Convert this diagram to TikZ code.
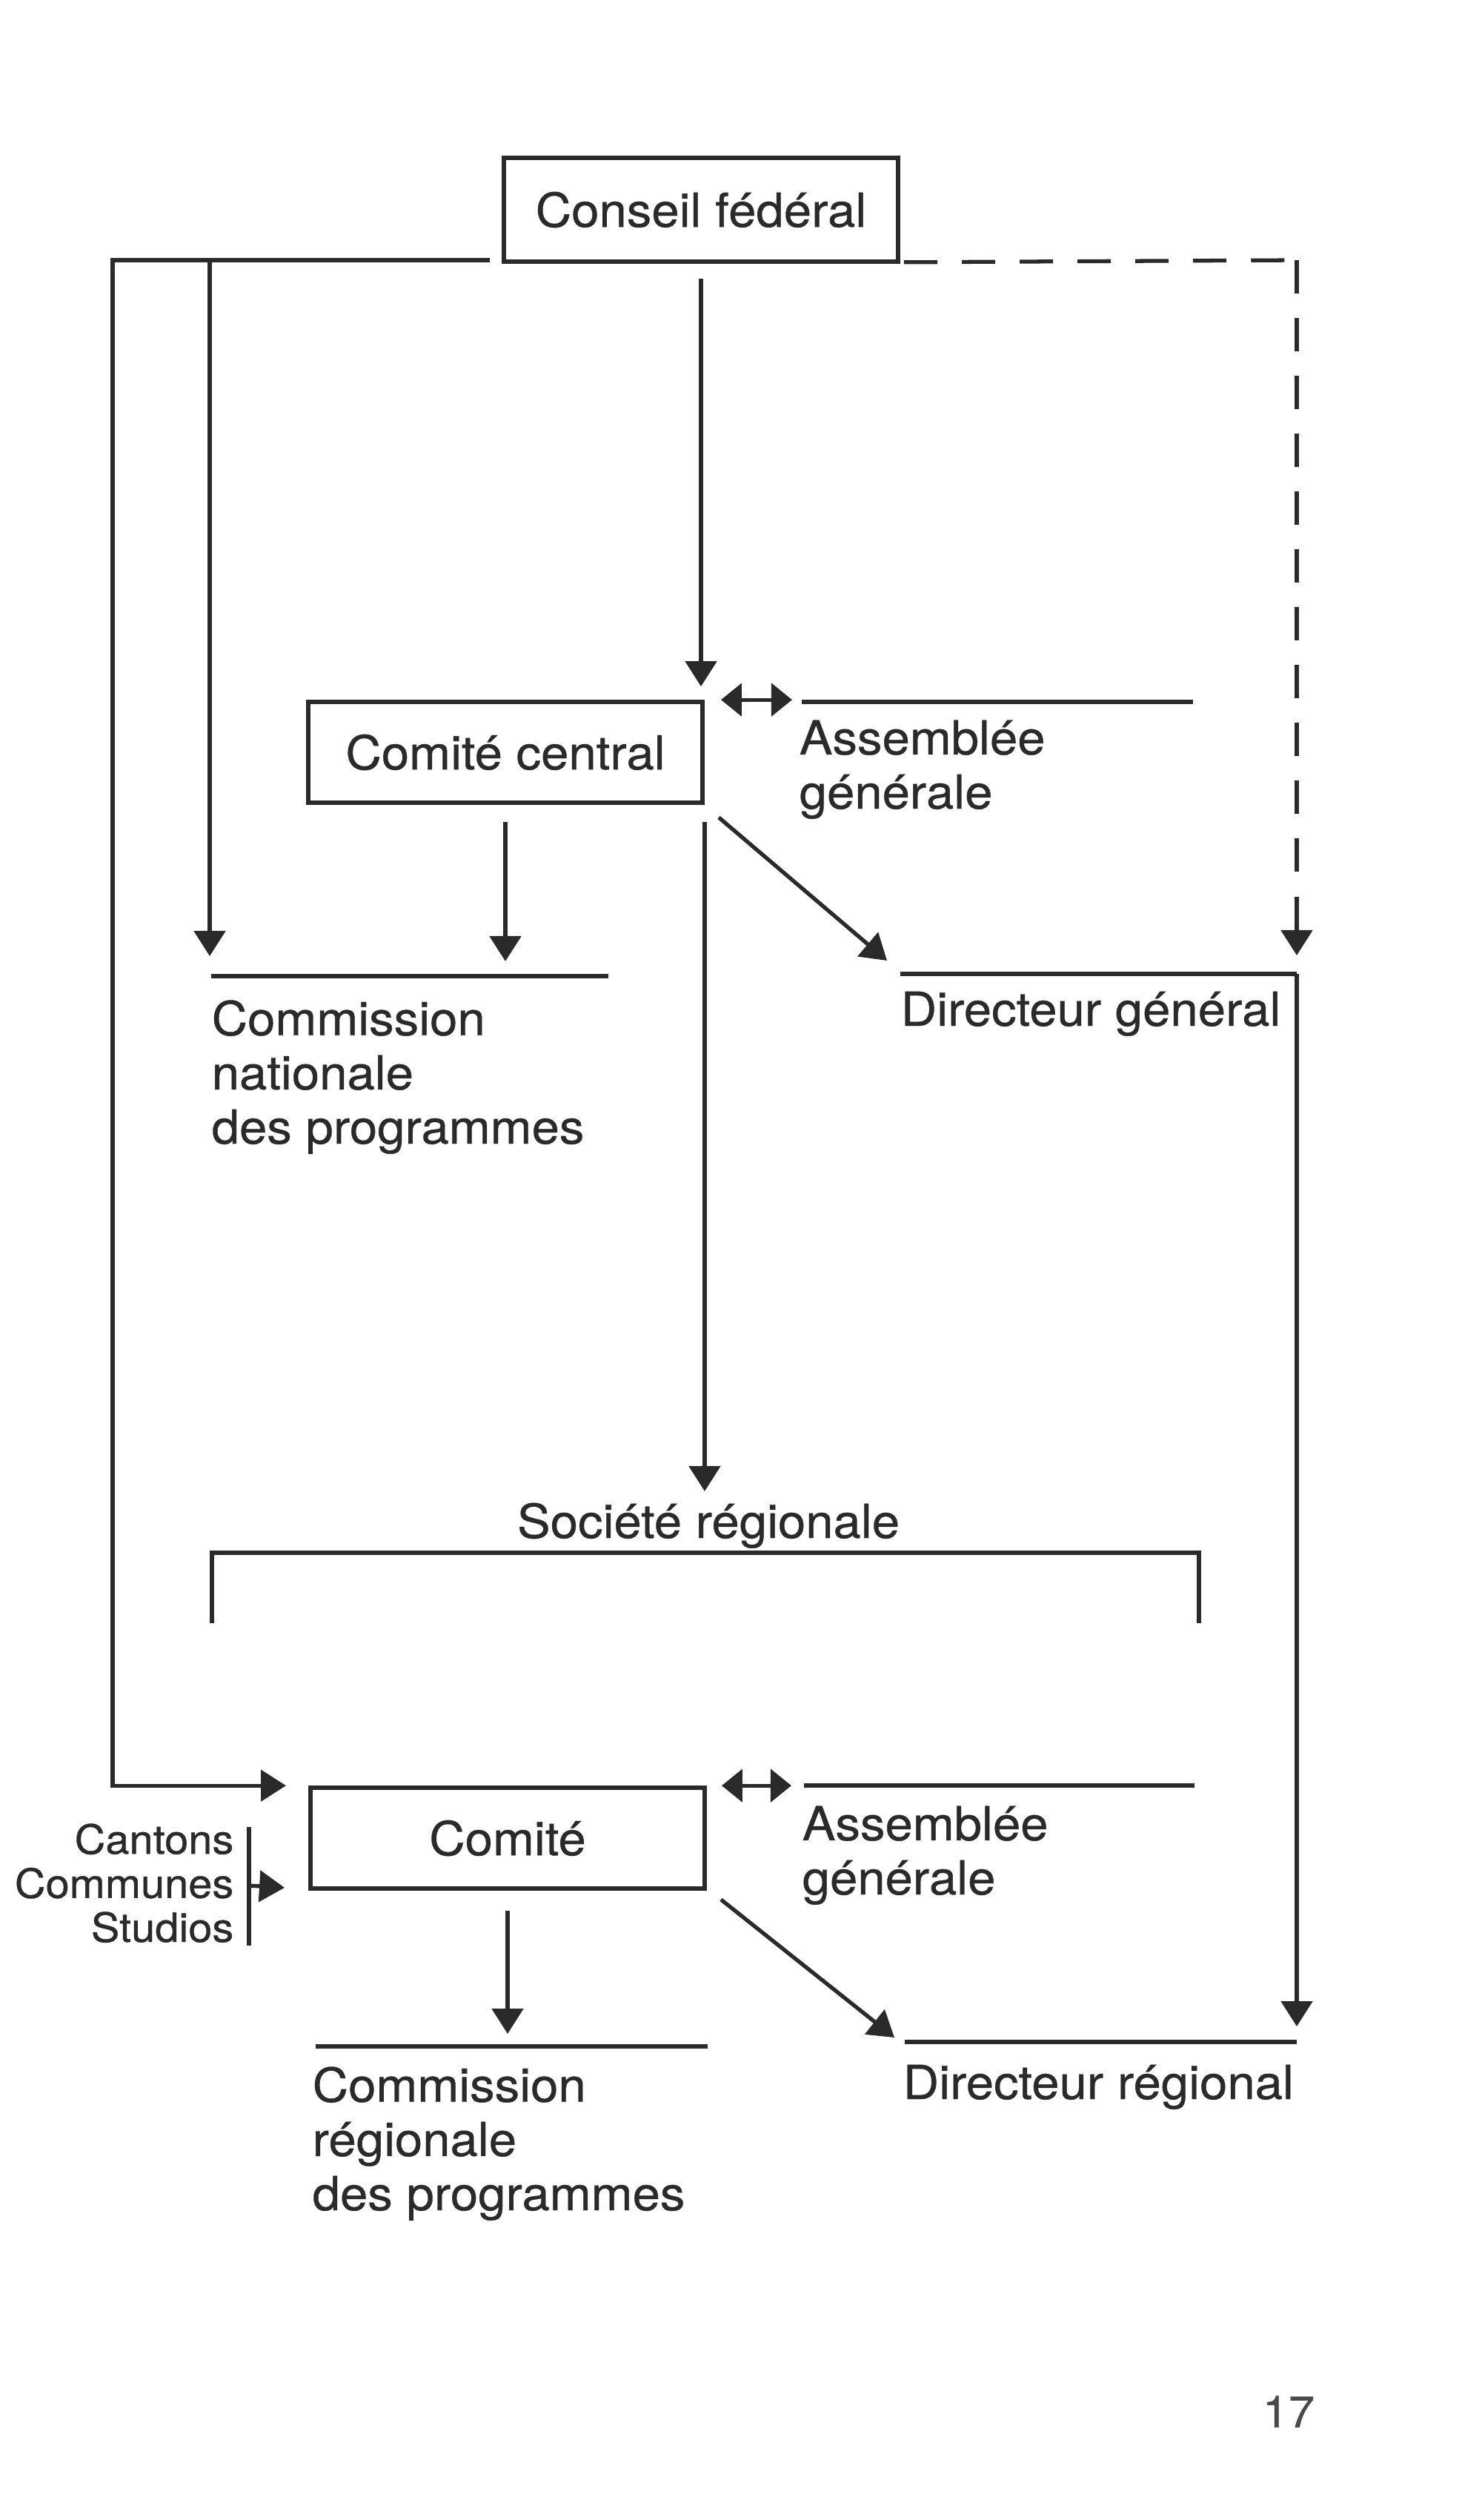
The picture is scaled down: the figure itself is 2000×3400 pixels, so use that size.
\documentclass[tikz,border=0pt]{standalone}
\usepackage{fontspec}
\setmainfont{TeX Gyre Heros}[FakeStretch=1.06,FakeBold=0.6]
\usetikzlibrary{arrows.meta,calc}
\definecolor{ink}{HTML}{2A2A2A}
\newcommand\mainfs{\fontsize{18}{20.8}\selectfont}
\newcommand\smallfs{\fontsize{15.5}{16.9}\selectfont}
\newcommand\pagefs{\fontsize{17}{20}\selectfont}
\begin{document}
\begin{tikzpicture}[x=0.01cm,y=-0.01cm,
  every node/.style={text=ink},
  box/.style={draw=ink,line width=1.6pt,minimum width=5.32cm,minimum height=1.36cm,inner sep=0pt,font=\mainfs},
  conn/.style={draw=ink,line width=1.5pt},
  arr/.style={conn,-{Triangle[length=0.34cm,width=0.42cm]}},
  dbl/.style={conn,{Triangle[length=0.28cm,width=0.44cm]}-{Triangle[length=0.28cm,width=0.44cm]}},
  lbl/.style={inner sep=0pt,font=\mainfs,align=left},
  dsh/.style={conn,dash pattern=on 0.45cm off 0.33cm}
]
\useasboundingbox (0,0) rectangle (2000,3400);
\fill[white] (0,0) rectangle (2000,3400);

% boxes
\node[box,minimum height=1.40cm] (cf) at (946,283) {Conseil fédéral};
\node[box] (cc) at (682,1015) {Comité central};
\node[box] (co) at (685,2480) {Comité};

% labels (multi-line nodes: base = last line)
\node[lbl,anchor=base west] (ag1) at (1078,1091) {Assemblée\\générale};
\node[lbl,anchor=base west] (cnp) at (285,1543) {Commission\\nationale\\des programmes};
\node[lbl,anchor=base west] (dg) at (1215,1384) {Directeur général};
\node[lbl,anchor=base] (sr) at (956,2075) {Société régionale};
\node[lbl,anchor=base west] (ag2) at (1082,2556) {Assemblée\\générale};
\node[lbl,anchor=base west] (dr) at (1218,2832) {Directeur régional};
\node[lbl,anchor=base west] (crp) at (421,2982) {Commission\\régionale\\des programmes};
\node[inner sep=0pt,font=\smallfs,align=right,anchor=base east] (cant) at (316,2620) {Cantons\\Communes\\Studios};
\node[inner sep=0pt,font=\pagefs,anchor=base west,text=ink!85] (pg) at (1703,3275) {17};

% coordinates
\coordinate (tl) at (152,351);
\coordinate (tlend) at (661,351);
\coordinate (v2) at (283,351);
\coordinate (dashR) at (1750,351);
\coordinate (ag1L) at (1082,947);
\coordinate (ag1R) at (1610,947);
\coordinate (cnpL) at (285,1317);
\coordinate (cnpR) at (821,1317);
\coordinate (dgL) at (1215,1314);
\coordinate (dgR) at (1750,1314);
\coordinate (srtip) at (948,2012);
\coordinate (srL) at (286,2095);
\coordinate (srR) at (1618,2095);
\coordinate (ag2L) at (1085,2409);
\coordinate (ag2R) at (1612,2409);
\coordinate (drL) at (1221,2755);
\coordinate (drR) at (1750,2755);
\coordinate (crpL) at (426,2761);
\coordinate (crpR) at (955,2761);
\coordinate (cbT) at (336,2465);
\coordinate (cbB) at (336,2625);
\coordinate (cbM) at (336,2544);

% connectors
\draw[arr] (tlend) -- (tl) |- ($(co.north west)+(-30,0)$);
\draw[arr] (v2) -- ($(cnpL)+(-2,-27)$);
\draw[dsh] ($(cf.south east)+(5,-2)$) -- (dashR);
\draw[dsh,-{Triangle[length=0.34cm,width=0.42cm]}] (dashR) -- ($(dgR)+(0,-25)$);
\draw[arr] ($(cf.south)+(0,20)$) -- ($(cf.south |- cc.north)+(0,-18)$);
\draw[dbl] ($(cc.north east)+(22,0)$) -- ++(96,0);
\draw[conn] (ag1L) -- (ag1R);
\draw[arr] ($(cc.south)+(0,23)$) -- ($(cc.south |- cnpL)+(0,-20)$);
\draw[conn] (cnpL) -- (cnpR);
\draw[arr] ($(cc.south east)+(19,17)$) -- ($(dgL)+(-18,-18)$);
\draw[conn] (dgL) -- (dgR);
\draw[arr] (dgR) -- ($(drR)+(0,-21)$);
\draw[arr] ($(cc.south east)+(0,23)$) -- (cc.south east |- srtip);
\draw[conn] ($(srL)+(0,95)$) -- (srL) -- (srR) -- ($(srR)+(0,95)$);
\draw[dbl] ($(co.north east)+(20,0)$) -- ++(94,0);
\draw[conn] (ag2L) -- (ag2R);
\draw[arr] ($(co.south east)+(19,12)$) -- ($(drL)+(-14,-6)$);
\draw[conn] (drL) -- (drR);
\draw[arr] ($(co.south)+(0,27)$) -- ($(co.south |- crpL)+(0,-17)$);
\draw[conn] (crpL) -- (crpR);
\draw[conn] (cbT) -- (cbB);
\draw[arr] (cbM) -- ($(co.south west)+(-32,-4)$);
\end{tikzpicture}
\end{document}
